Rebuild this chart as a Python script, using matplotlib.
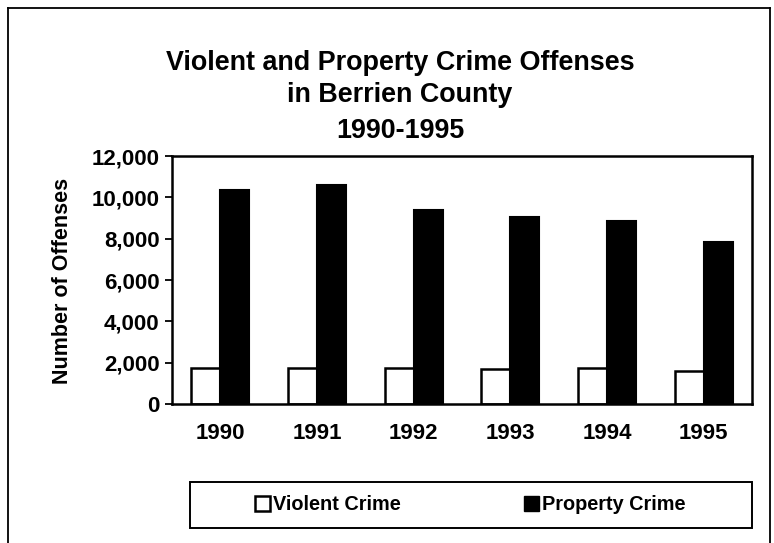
import numpy as np
import matplotlib
matplotlib.use("Agg")
import matplotlib.pyplot as plt
from matplotlib.patches import Rectangle, Patch
from matplotlib.lines import Line2D
from matplotlib.ticker import FuncFormatter

years = ["1990", "1991", "1992", "1993", "1994", "1995"]
violent = [1750, 1750, 1750, 1680, 1760, 1590]
property_crime = [10370, 10600, 9380, 9060, 8850, 7840]

plt.rcParams['font.family'] = ['Liberation Sans', 'DejaVu Sans']
plt.rcParams['font.weight'] = 'bold'

W, H = 774, 543
fig = plt.figure(figsize=(W / 100, H / 100), dpi=100)
ax = fig.add_axes([172 / W, 1 - 404 / H, 580 / W, 248 / H])

x = np.arange(len(years))
w = 0.3
ax.bar(x - w / 2, violent, w, color='white', edgecolor='black', linewidth=1.8, label='Violent Crime')
ax.bar(x + w / 2, property_crime, w, color='black', edgecolor='black', linewidth=1.5, label='Property Crime')

ax.set_xlim(-0.5, len(years) - 0.5)
ax.set_ylim(0, 12000)
ax.set_yticks(np.arange(0, 12001, 2000))
ax.yaxis.set_major_formatter(FuncFormatter(lambda v, p: f"{int(v):,}"))
ax.set_xticks(x)
ax.set_xticklabels(years)
ax.tick_params(axis='y', direction='out', length=5, width=1.3, labelsize=16, pad=4)
ax.tick_params(axis='x', length=0, labelsize=16, pad=14)
for s in ax.spines.values():
    s.set_linewidth(1.8)
    s.set_color('black')

# y label, centred on the plot area
fig.text(63 / W, 1 - 281 / H, 'Number of Offenses', rotation=90, ha='center', va='center',
         fontsize=15.5)

# titles
cx = 400 / W
fig.text(cx, 1 - 70 / H, 'Violent and Property Crime Offenses', ha='center', va='baseline',
         fontsize=19.4)
fig.text(cx, 1 - 102 / H, 'in Berrien County', ha='center', va='baseline', fontsize=19.4)
fig.text(cx, 1 - 138 / H, '1990-1995', ha='center', va='baseline', fontsize=19.4)

# legend box
fig.patches.append(Rectangle((190 / W, 1 - 528 / H), 562 / W, 46 / H,
                             transform=fig.transFigure, fill=False, edgecolor='black', linewidth=1.4))
handles = [Patch(facecolor='white', edgecolor='black', linewidth=1.8),
           Patch(facecolor='black', edgecolor='black')]
fig.legend(handles, ['Violent Crime', 'Property Crime'], loc='center',
           bbox_to_anchor=(470 / W, 1 - 505 / H), ncol=2, frameon=False, fontsize=14.3,
           handlelength=0.75, handleheight=0.75, handletextpad=0.15, columnspacing=6.2,
           borderpad=0)

# outer border
fig.add_artist(Line2D([8 / W, 8 / W], [0, 1 - 8 / H], transform=fig.transFigure, color='black', lw=1.3))
fig.add_artist(Line2D([8 / W, 770 / W], [1 - 8 / H, 1 - 8 / H], transform=fig.transFigure, color='black', lw=1.3))
fig.add_artist(Line2D([770 / W, 770 / W], [1 - 8 / H, 0], transform=fig.transFigure, color='black', lw=1.3))

fig.savefig('out.png', dpi=100)
